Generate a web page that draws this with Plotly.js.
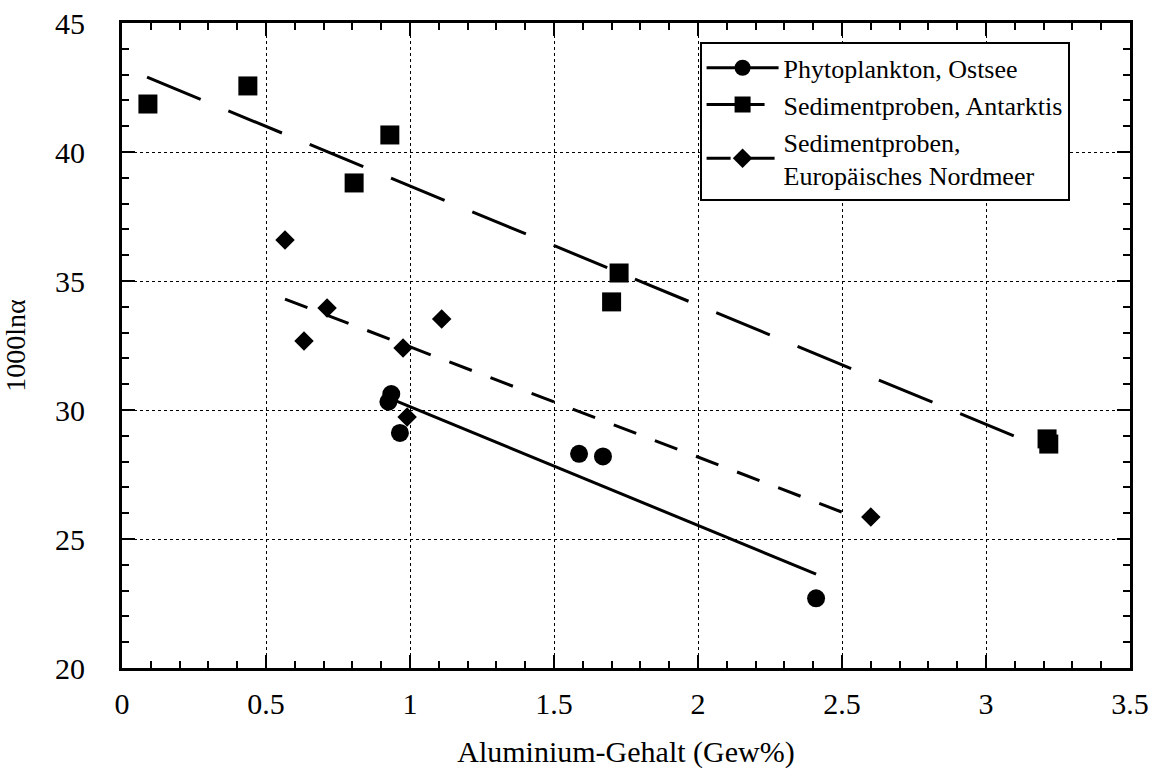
<!DOCTYPE html>
<html><head><meta charset="utf-8">
<script src="https://cdn.plot.ly/plotly-3.0.1.min.js"></script>
<style>html,body{margin:0;padding:0;background:#fff}#c{width:1165px;height:774px}</style>
</head><body><div id="c"></div>
<script>
// Data points
const ostseeX = [0.935, 0.925, 0.965, 1.587, 1.67, 2.41];
const ostseeY = [30.62, 30.32, 29.11, 28.3, 28.2, 22.7];
const antarktisX = [0.09, 0.437, 0.93, 0.806, 1.726, 1.70, 3.212, 3.218];
const antarktisY = [41.86, 42.56, 40.66, 38.8, 35.31, 34.19, 28.88, 28.68];
const nordmeerX = [0.566, 0.712, 0.632, 0.976, 1.11, 0.99, 2.60];
const nordmeerY = [36.59, 33.95, 32.67, 32.4, 33.53, 29.73, 25.85];
// Regression lines (endpoints)
const ostseeFitX = [0.93, 2.41];
const ostseeFitY = [30.45, 23.64];
const antarktisFitX = [0.087, 3.215];
const antarktisFitY = [42.9, 28.45];
const nordmeerFitX = [0.566, 2.545];
const nordmeerFitY = [34.3, 25.85];
const names = ['Phytoplankton, Ostsee', 'Sedimentproben, Antarktis', 'Sedimentproben,<br>Europäisches Nordmeer'];

const font = 'Liberation Serif, Times New Roman, serif';
const clear = 'rgba(0,0,0,0)';
// fit trace: a leading empty point carries the legend marker colour, the endpoints' markers are transparent
function fitTrace(fx, fy, name, group, symbol, size, dash) {
  return {x: [null].concat(fx), y: [null].concat(fy), mode: 'lines+markers', name: name, legendgroup: group,
    line: {color: '#000', width: 3, dash: dash},
    marker: {symbol: symbol, size: size, color: ['#000', clear, clear]}};
}
function pointTrace(px, py, group, symbol, size) {
  return {x: px, y: py, mode: 'markers', legendgroup: group, showlegend: false,
    marker: {symbol: symbol, size: size, color: '#000'}};
}
const traces = [
  fitTrace(ostseeFitX, ostseeFitY, names[0], 'a', 'circle', 18, 'solid'),
  pointTrace(ostseeX, ostseeY, 'a', 'circle', 18),
  fitTrace(antarktisFitX, antarktisFitY, names[1], 'b', 'square', 19, '58px,30px'),
  pointTrace(antarktisX, antarktisY, 'b', 'square', 19),
  fitTrace(nordmeerFitX, nordmeerFitY, names[2], 'c', 'diamond', 15, '24px,20px'),
  pointTrace(nordmeerX, nordmeerY, 'c', 'diamond', 15)
];

const axisCommon = {
  showline: true, linecolor: '#000', linewidth: 3, mirror: 'ticks',
  ticks: 'inside', ticklen: 13, tickwidth: 2.5, tickcolor: '#000',
  showgrid: true, gridcolor: '#000', gridwidth: 1, griddash: 'dot',
  zeroline: false, tickfont: {family: font, size: 30, color: '#000'}
};

const layout = {
  width: 1165, height: 774,
  margin: {l: 122, r: 35, t: 23, b: 106},
  paper_bgcolor: '#fff', plot_bgcolor: '#fff',
  showlegend: true,
  legend: {x: 0.573, y: 0.97, xanchor: 'left', yanchor: 'top', bgcolor: '#fff',
    bordercolor: '#000', borderwidth: 2, itemwidth: 72,
    font: {family: font, size: 26, color: '#000'}, tracegroupgap: 0},
  xaxis: Object.assign({}, axisCommon, {
    range: [0, 3.5], dtick: 0.5, tick0: 0, ticklabelstandoff: 7,
    minor: {dtick: 0.1, ticks: 'inside', ticklen: 7, tickwidth: 2, tickcolor: '#000', showgrid: false},
    title: {text: 'Aluminium-Gehalt (Gew%)', font: {family: font, size: 30, color: '#000'}, standoff: 22}
  }),
  yaxis: Object.assign({}, axisCommon, {
    range: [20, 45], dtick: 5, tick0: 20, ticklabelstandoff: 28,
    minor: {dtick: 1, ticks: 'inside', ticklen: 7, tickwidth: 2, tickcolor: '#000', showgrid: false},
    title: {text: '1000lnα', font: {family: font, size: 28, color: '#000'}, standoff: 24}
  })
};

Plotly.newPlot('c', traces, layout, {displayModeBar: false, staticPlot: true});
</script></body></html>
